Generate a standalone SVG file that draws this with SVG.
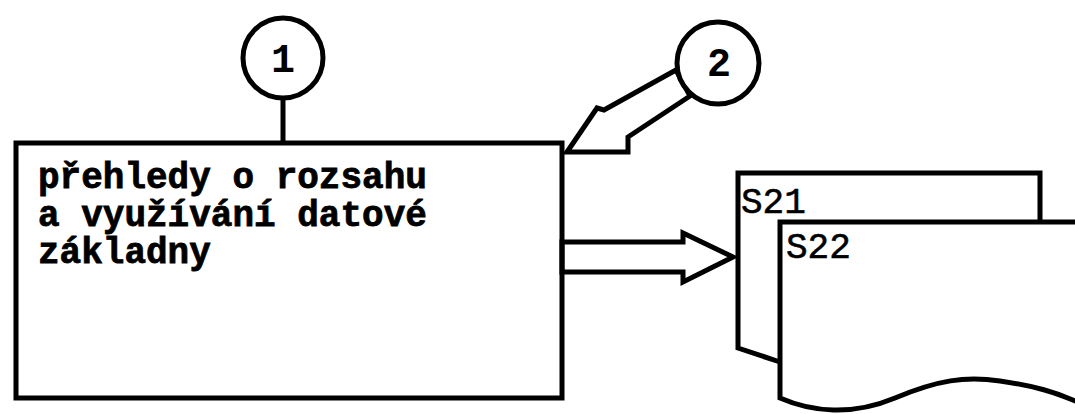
<svg xmlns="http://www.w3.org/2000/svg" width="1075" height="414" viewBox="0 0 1075 414">
<style>
.ln{fill:none;stroke:#000;stroke-width:5;stroke-linejoin:miter}
.wf{fill:#fff;stroke:#000;stroke-width:5}
.t{font-family:"Liberation Mono","DejaVu Sans Mono",monospace;font-weight:bold;font-size:36px;fill:#000;stroke:#000;stroke-width:0.8}
.s{font-family:"Liberation Mono","DejaVu Sans Mono",monospace;font-size:36px;fill:#000;stroke:#000;stroke-width:0.6}
.c{font-family:"Liberation Mono","DejaVu Sans Mono",monospace;font-weight:bold;font-size:40px;fill:#000;text-anchor:middle}
</style>
<rect width="1075" height="414" fill="#fff"/>
<g id="connectors">
<line class="ln" x1="283" y1="100" x2="283" y2="143"/>
<polygon class="wf" points="567,152 597,108 604,110 676,70 690,96 628,137 628,152"/>
<polygon class="wf" points="562,242 683,242 683,233 733,257 683,282 683,272 562,272"/>
</g>
<g id="box1">
<rect class="ln" x="16" y="143" width="546" height="255"/>
<text class="t" x="38" y="188">přehledy o rozsahu</text>
<text class="t" x="38" y="226">a využívání datové</text>
<text class="t" x="38" y="263">základny</text>
</g>
<g id="c1">
<circle class="wf" cx="283" cy="58" r="40"/>
<text class="c" x="283" y="72">1</text>
</g>
<g id="c2">
<circle class="wf" cx="718" cy="63" r="41"/>
<text class="c" x="719" y="76">2</text>
</g>
<g id="s21">
<path class="wf" d="M780,362 L738,348 L738,173 L1040,173 L1040,240"/>
<text class="s" x="741" y="213">S21</text>
</g>
<g id="s22">
<path d="M1080,222 L780,222 L780,398 C812,412 852,416 895,398 S965,376 1000,381 S1055,392 1080,403 Z" fill="#fff" stroke="none"/>
<path class="ln" d="M1080,222 L780,222 L780,398 C812,412 852,416 895,398 S965,376 1000,381 S1055,392 1080,403"/>
<text class="s" x="786" y="258">S22</text>
</g>
</svg>
